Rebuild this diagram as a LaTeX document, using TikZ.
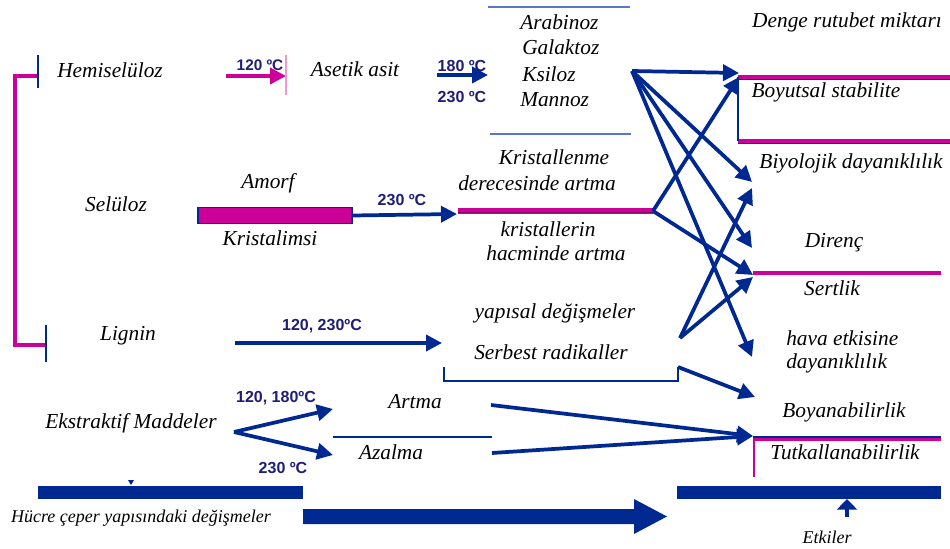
\documentclass[tikz,border=0pt]{standalone}
\usepackage{fontspec}
\setmainfont{Liberation Serif}
\newfontfamily\lblfont{Liberation Sans}
\usetikzlibrary{arrows.meta}
\definecolor{dblue}{RGB}{0,40,145}
\definecolor{mag}{RGB}{204,0,153}
\definecolor{dmag}{RGB}{140,0,100}
\definecolor{lblue}{RGB}{90,120,200}
\definecolor{navy}{RGB}{30,30,120}
\definecolor{lpink}{RGB}{240,150,210}
\begin{document}
\begin{tikzpicture}[x=0.75pt,y=-0.75pt,
  txt/.style={font=\fontsize{16}{19}\selectfont\itshape, inner sep=0pt, text=black},
  smalltxt/.style={font=\fontsize{13.5}{16}\selectfont\itshape, inner sep=0pt, text=black},
  lbl/.style={font=\lblfont\bfseries\fontsize{12}{14}\selectfont, text=navy, inner sep=0pt},
  barrow/.style={draw=dblue, line width=2.8pt, line join=round, -{Triangle[length=12pt,width=12pt]}},
  marrow/.style={draw=mag, line width=2.8pt, -{Triangle[length=12pt,width=12pt]}},
  bline/.style={draw=dblue, line width=1.4pt},
  mline/.style={draw=mag, line width=2.6pt},
  tick/.style={draw=dblue, line width=1.6pt},
]
\useasboundingbox (0,0) rectangle (950,549);
\fill[white] (0,0) rectangle (950,549);

% ---------------- left column texts
\node[txt] (hemi) at (110,70) {Hemiselüloz};
\node[txt] (sel) at (116,204) {Selüloz};
\node[txt] (lig) at (128,336) {Lignin};
\node[txt] (ekst) at (131,423) {Ekstraktif Maddeler};

% left bracket
\coordinate (hemiT) at (38,76);
\coordinate (ligT) at (46,345);
\draw[mline] (hemiT) -| (15,345) -- (ligT);
\draw[tick] (38,55) -- (38,88);
\draw[tick] (46,325) -- (46,362);

% ---------------- Hemiseluloz row
\coordinate (ha1) at (226,76);
\coordinate (ha2) at (286,76);
\draw[marrow] (ha1) -- (ha2);
\draw[lpink, line width=1pt] (286,55) -- (286,95);
\node[lbl, font=\lblfont\bfseries\fontsize{11.5}{14}\selectfont] (l120) at (260,65) {120 ºC};
\node[txt] (aset) at (355,69) {Asetik asit};
\coordinate (aa1) at (437,75);
\coordinate (aa2) at (488,75);
\draw[barrow] (aa1) -- (aa2);
\node[lbl] (l180) at (462,66) {180 ºC};
\node[lbl] (l230a) at (462,97) {230 ºC};

\draw[lblue, line width=1pt] (488,7) -- (630,7);
\draw[lblue, line width=1pt] (490,134) -- (631,134);
\node[txt, anchor=west] (arab) at (520,22) {Arabinoz};
\node[txt, anchor=west] (gal) at (522,47) {Galaktoz};
\node[txt, anchor=west] (ksi) at (522,74) {Ksiloz};
\node[txt, anchor=west] (man) at (520,100) {Mannoz};

% ---------------- Seluloz row
\node[txt] (amorf) at (268,183) {Amorf};
\node[txt] (krism) at (270,238) {Kristalimsi};
\node[fill=mag, draw=dblue, line width=0.8pt, minimum width=115.5pt, minimum height=12.5pt, inner sep=0pt] (selbar) at (275,215.5) {};
\coordinate (sa2) at (457,214);
\draw[barrow] (selbar.east) -- (sa2);
\node[lbl] (l230b) at (402,200) {230 ºC};
\coordinate (k1) at (458,211);
\coordinate (S2) at (653,211);
\draw[mag, line width=4pt] (k1) -- (S2);
\draw[dmag, line width=1.2pt] ([yshift=-1.2pt]k1) -- ([yshift=-1.2pt]S2);
\node[txt] (kr1) at (554,157) {Kristallenme};
\node[txt] (kr2) at (537,183) {derecesinde artma};
\node[txt] (kr3) at (548,229) {kristallerin};
\node[txt] (kr4) at (556,253) {hacminde artma};

% ---------------- Lignin row
\coordinate (la1) at (235,343);
\coordinate (la2) at (442,343);
\draw[barrow] (la1) -- (la2);
\node[lbl] (l120b) at (322,326) {120, 230ºC};
\node[txt] (yap) at (555,313) {yapısal değişmeler};
\node[txt] (serb) at (551,352) {Serbest radikaller};
\coordinate (br1) at (444,367);
\coordinate (br2) at (678,367);
\draw[bline] (br1) |- (678,381) -- (br2);

% ---------------- Ekstraktif row
\coordinate (ek) at (234,432);
\coordinate (ekA) at (333,409);
\coordinate (ekB) at (333,455);
\draw[barrow] (ek) -- (ekA);
\draw[barrow] (ek) -- (ekB);
\node[lbl] (l120c) at (276,398) {120, 180ºC};
\node[lbl] (l230c) at (283,468) {230 ºC};
\node[txt] (artma) at (415,402) {Artma};
\node[txt] (azal) at (391,452) {Azalma};
\draw[bline] (333,437) -- (492,437);
\coordinate (artE) at (491,405);
\coordinate (azE) at (492,453);

% ---------------- right column
\node[txt] (denge) at (847,22) {Denge rutubet miktarı};
\node[txt] (boy) at (826,92) {Boyutsal stabilite};
\node[txt] (biyo) at (851,163) {Biyolojik dayanıklılık};
\node[txt] (dir) at (834,243) {Direnç};
\node[txt] (sert) at (832,288) {Sertlik};
\node[txt, anchor=west] (hava) at (786,338) {hava etkisine};
\node[txt, anchor=west] (day) at (786,363) {dayanıklılık};
\node[txt] (boya) at (844,412) {Boyanabilirlik};
\node[txt] (tutk) at (845,452) {Tutkallanabilirlik};

\draw[dblue, line width=0.8pt] (738,79.5) -- (950,79.5);
\draw[mline] (738,77) -- (950,77);
\draw[dblue, line width=0.8pt] (738,143.5) -- (950,143.5);
\draw[mline] (738,141) -- (950,141);
\draw[dblue, line width=1.2pt] (738,77) -- (738,141);
\draw[mline] (753,273) -- (941,273);
\draw[dblue, line width=1pt] (753,437) -- (941,437);
\draw[mag, line width=1.8pt] (754,439.5) -- (941,439.5);
\draw[mag, line width=1.8pt] (754,438) -- (754,477);

% target points
\coordinate (S1) at (632,71);
\coordinate (S3) at (680,338);
\coordinate (tBoy) at (739,73);
\coordinate (tBoy2) at (739,77);
\coordinate (tBiyo) at (752,182);
\coordinate (tBiyo2) at (752,188);
\coordinate (tDir) at (752,248);
\coordinate (tSert) at (753,275);
\coordinate (tSert2) at (753,277);
\coordinate (tHava) at (752,357);
\coordinate (tBoya) at (755,397);
\coordinate (tTut) at (753,436);

\draw[barrow] (S1) -- (tBoy);
\draw[barrow] (S1) -- (tBiyo);
\draw[barrow] (S1) -- (tDir);
\draw[barrow] (S1) -- (tHava);
\draw[barrow] (S2) -- (tBoy2);
\draw[barrow] (S2) -- (tSert);
\draw[barrow] (S3) -- (tBiyo2);
\draw[barrow] (S3) -- (tSert2);
\draw[barrow] (br2) -- (tBoya);
\draw[barrow] (artE) -- (tTut);
\draw[barrow] (azE) -- (tTut);

% ---------------- bottom
\fill[dblue] (38,486) rectangle (303,499);
\fill[dblue] (677,486) rectangle (941,499);
\fill[dblue] (128,480) -- (134,480) -- (131,485) -- cycle;
\fill[dblue] (303,509) -- (634,509) -- (634,499) -- (667,516.5) -- (634,534) -- (634,524) -- (303,524) -- cycle;
\coordinate (up1) at (847,517);
\coordinate (up2) at (847,499);
\draw[dblue, line width=3.5pt, -{Triangle[length=8pt,width=15pt]}] (up1) -- (up2);
\node[smalltxt] (hucre) at (141,518) {Hücre çeper yapısındaki değişmeler};
\node[smalltxt] (etk) at (827,537) {Etkiler};
\end{tikzpicture}
\end{document}
